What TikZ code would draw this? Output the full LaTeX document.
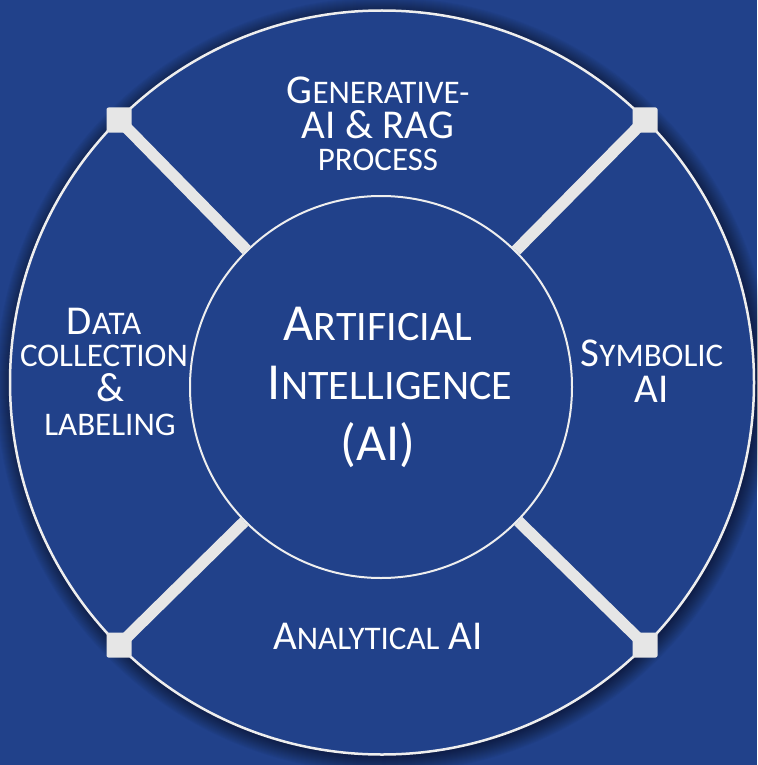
\documentclass[tikz,border=0pt]{standalone}
\usepackage{fontspec}
\setmainfont{Carlito}
\definecolor{bg}{RGB}{33,65,138}
\definecolor{spoke}{RGB}{230,230,230}
\definecolor{rim}{RGB}{238,238,238}
\newcommand\Lg[1]{{\fontsize{41pt}{41pt}\selectfont #1}}
\newcommand\Sm[1]{{\fontsize{33pt}{33pt}\selectfont #1}}
\newcommand\CLg[1]{{\fontsize{52pt}{52pt}\selectfont #1}}
\newcommand\CSm[1]{{\fontsize{42pt}{42pt}\selectfont #1}}
\begin{document}
\begin{tikzpicture}[x=1pt,y=-1pt,
  lab/.style={text=white, anchor=base, inner sep=0pt},
  sqbox/.style={fill=spoke, minimum size=25pt, inner sep=0pt, rounded corners=2pt},
  spk/.style={draw=spoke, line width=11.5pt}]
\fill[bg] (0,0) rectangle (757,765);
\useasboundingbox (0,0) rectangle (757,765);
% soft shadow around the ring
\foreach \i in {0,...,16}
  \fill[black, opacity=0.03] (384,385) circle[radius={372pt+\i pt}];
\node[circle, minimum size=744pt, inner sep=0pt, fill=bg, draw=rim, line width=2.5pt] (ring) at (382,382.5) {};
\node[sqbox] (sq1) at (119,120) {};
\node[sqbox] (sq2) at (645,120) {};
\node[sqbox] (sq3) at (119,645) {};
\node[sqbox] (sq4) at (645,645) {};
\node[circle, minimum size=382pt, inner sep=0pt, fill=bg, draw=rim, line width=2pt] (core) at (381,387) {};
\draw[spk] (sq1.center) -- (core);
\draw[spk] (sq2.center) -- (core);
\draw[spk] (sq3.center) -- (core);
\draw[spk] (sq4.center) -- (core);
% top
\node[lab] (g1) at (378,104) {\Lg{G}\Sm{ENERATIVE-}};
\node[lab] (g2) at (378,139) {\Lg{AI \& RAG}};
\node[lab] (g3) at (378,170) {\Sm{PROCESS}};
% left
\node[lab] (d1) at (104,334) {\Lg{D}\Sm{ATA}};
\node[lab] (d2) at (104,366) {\Sm{COLLECTION}};
\node[lab] (d3) at (110,401) {\Lg{\&}};
\node[lab] (d4) at (110,435) {\Sm{LABELING}};
% right
\node[lab] (s1) at (652,366) {\Lg{S}\Sm{YMBOLIC}};
\node[lab] (s2) at (652,402) {\Lg{AI}};
% bottom
\node[lab] (a1) at (378,649) {\Lg{A}\Sm{NALYTICAL}\Lg{ AI}};
% centre
\node[lab] (c1) at (378,340) {\CLg{A}\CSm{RTIFICIAL}};
\node[lab] (c2) at (390,399) {\CLg{I}\CSm{NTELLIGENCE}};
\node[lab] (c3) at (378,460) {\CLg{(AI)}};
\end{tikzpicture}
\end{document}
